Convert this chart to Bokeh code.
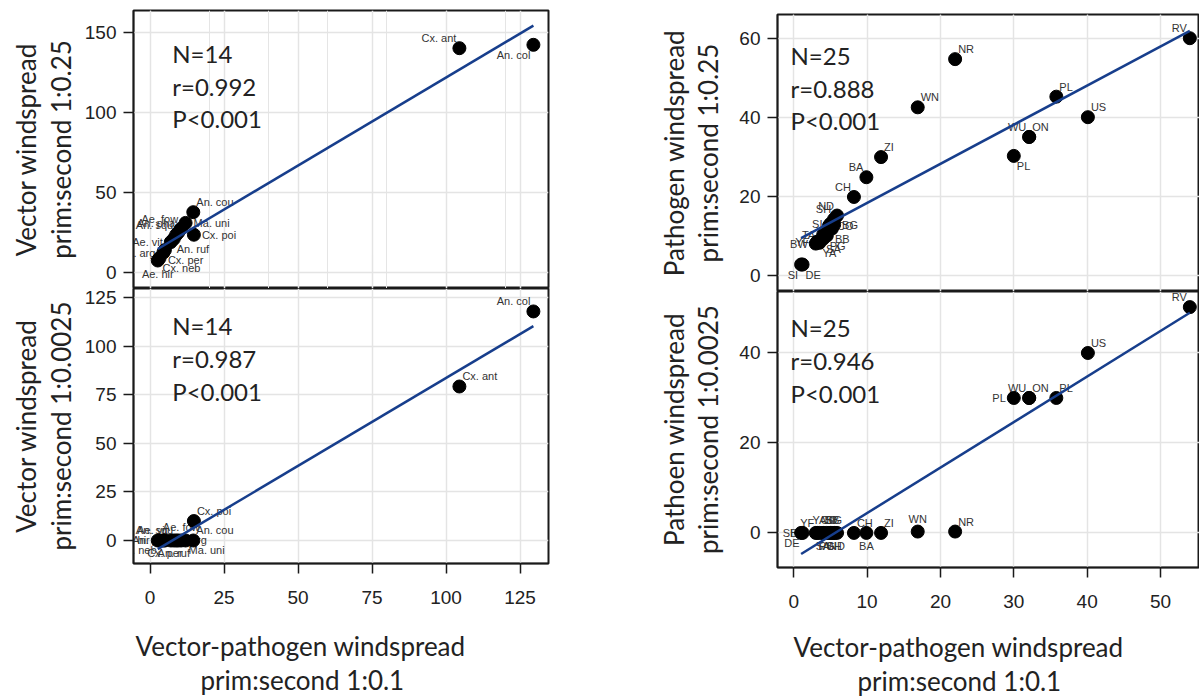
import numpy as np
from bokeh.plotting import figure
from bokeh.layouts import row, column
from bokeh.models import ColumnDataSource, FixedTicker, Grid, Label, Range1d, Title
from bokeh.core.properties import value
from bokeh.embed import file_html
from bokeh.resources import INLINE

# ---------------- data ----------------
vec_species = ["Cx. ant", "An. col", "An. cou", "Cx. poi", "Ma. uni", "Ae. fow", "An. pha",
               "An. squ", "An. ruf", "Ae. vit", "Cx. per", "Ae. arg", "Cx. neb", "Ae. hir"]
vec_x = [104.5, 129.5, 14.6, 14.8, 12.0, 10.5, 9.5, 8.8, 8.0, 7.0, 5.0, 4.5, 3.2, 2.6]
vec_y_025 = [140.2, 142.3, 37.7, 23.6, 31.0, 27.5, 25.0, 23.5, 21.0, 19.0, 14.0, 12.5, 9.0, 7.5]
vec_y_00025 = [79.2, 117.8, 0.0, 10.0, 0.0, 0.0, 0.0, 0.0, 0.0, 0.0, 0.0, 0.0, 0.0, 0.0]
vec_stats_025 = ["N=14", "r=0.992", "P<0.001"]
vec_stats_00025 = ["N=14", "r=0.987", "P<0.001"]

path_sites = ["RV", "NR", "WN", "PL", "US", "WU", "ON", "PL", "ZI", "BA", "CH", "ND", "SH",
              "SI", "CO", "BG", "BB", "TA", "PG", "BW", "YF", "SA", "YA", "SI", "DE"]
path_x = [54.0, 22.0, 16.9, 35.8, 40.1, 32.1, 32.1, 30.0, 11.9, 9.9, 8.2, 5.9, 5.5,
          5.0, 4.8, 5.5, 5.2, 4.0, 4.5, 3.0, 3.2, 4.0, 3.5, 1.0, 1.2]
path_y_025 = [60.0, 54.7, 42.5, 45.2, 40.0, 35.0, 35.0, 30.2, 29.9, 24.8, 19.8, 15.1, 14.2,
              13.0, 12.5, 12.8, 11.8, 10.2, 10.0, 8.0, 8.5, 9.2, 8.2, 2.7, 2.7]
path_y_00025 = [50.2, 0.3, 0.3, 30.0, 40.0, 30.0, 30.0, 30.0, 0.0, 0.0, 0.0, 0.0, 0.0,
                0.0, 0.0, 0.0, 0.0, 0.0, 0.0, 0.0, 0.0, 0.0, 0.0, 0.0, 0.0]
path_stats_025 = ["N=25", "r=0.888", "P<0.001"]
path_stats_00025 = ["N=25", "r=0.946", "P<0.001"]

vec_x_ticks = [0, 25, 50, 75, 100, 125]
vec_y025_ticks = [0, 50, 100, 150]
vec_y00025_ticks = [0, 25, 50, 75, 100, 125]
path_x_ticks = [0, 10, 20, 30, 40, 50]
path_y025_ticks = [0, 20, 40, 60]
path_y00025_ticks = [0, 20, 40]

x_title_lines = ["Vector-pathogen windspread", "prim:second 1:0.1"]
y_title_ul = "Vector windspread\nprim:second 1:0.25"
y_title_ll = "Vector windspread\nprim:second 1:0.0025"
y_title_ur = "Pathogen windspread\nprim:second 1:0.25"
y_title_lr = "Pathoen windspread\nprim:second 1:0.0025"

# ---------------- styles (label placement) ----------------
POS = {
    "ur": (3, -4, "left", "bottom"),
    "ul": (-3, -4, "right", "bottom"),
    "lr": (3, 4, "left", "top"),
    "ll": (-3, 4, "right", "top"),
    "r": (8, 0, "left", "middle"),
    "l": (-8, 0, "right", "middle"),
    "u": (0, -7, "center", "bottom"),
    "d": (0, 7, "center", "top"),
}
vec_pos_025 = ["ul", "ll", "ur", "r", "r", "ul", "ul", "ul", "lr", "l", "lr", "l", "lr", "d"]
vec_pos_00025 = ["ur", "ul", "ur", "ur", "lr", "u", "l", "ul", "d", "ul", "d", "r", "ll", "l"]
path_pos_025 = ["ul", "ur", "ur", "ur", "ur", "ul", "ur", "lr", "ur", "ul", "ul", "ul", "ul",
                "l", "r", "r", "lr", "l", "lr", "l", "l", "lr", "lr", "ll", "lr"]
path_pos_00025 = ["ul", "ur", "u", "ur", "ur", "ul", "ur", "l", "ur", "d", "ur", "d", "d",
                  "u", "u", "u", "u", "d", "d", "l", "ul", "d", "u", "l", "ll"]

INK = "#1a1a1a"
LINE_BLUE = "#173e8c"
GRID = "#e4e4e4"
TITLE_FONT = "Lato"
TITLE_SIZE = "26px"


def style_axis(ax, ticks, title, standoff, line_height, label_standoff):
    ax.ticker = FixedTicker(ticks=ticks)
    ax.major_tick_out = 10
    ax.major_tick_in = 0
    ax.minor_tick_out = 0
    ax.minor_tick_in = 0
    ax.major_tick_line_color = INK
    ax.major_tick_line_width = 1.5
    ax.axis_line_color = INK
    ax.axis_line_width = 1.5
    ax.major_label_text_font = "Liberation Sans"
    ax.major_label_text_font_size = "19px"
    ax.major_label_text_color = "#222222"
    ax.major_label_standoff = label_standoff
    if title is not None:
        ax.axis_label = title
        ax.axis_label_text_font = TITLE_FONT
        ax.axis_label_text_font_style = "normal"
        ax.axis_label_text_font_size = TITLE_SIZE
        ax.axis_label_text_color = "#222222"
        ax.axis_label_text_line_height = line_height
        ax.axis_label_standoff = standoff


def make_panel(width, height, xr, yr, borders, xs, ys, names, pos, xticks, yticks,
               ytitle, ystandoff, xtitle_offsets, gap_size, stats, stat_xy):
    mbl, mbr, mbt, mbb = borders
    show_x = xtitle_offsets is not None
    p = figure(width=width, height=height, x_range=Range1d(*xr), y_range=Range1d(*yr),
               output_backend="svg", toolbar_location=None,
               x_axis_location="below" if show_x else None,
               min_border_left=mbl, min_border_right=mbr,
               min_border_top=mbt, min_border_bottom=mbb)
    p.background_fill_color = "white"
    p.border_fill_color = "white"
    p.outline_line_color = INK
    p.outline_line_width = 2
    style_axis(p.yaxis[0], yticks, ytitle, ystandoff, 1.08, 7)
    p.ygrid.grid_line_color = GRID
    p.ygrid.grid_line_width = 1.5
    if show_x:
        style_axis(p.xaxis[0], xticks, None, 0, 1.0, 17)
        p.xgrid.grid_line_color = GRID
        p.xgrid.grid_line_width = 1.5
        # blank spacer between tick labels and the two-line title
        p.add_layout(Title(text=" ", standoff=0, text_font=TITLE_FONT,
                           text_font_size=gap_size), "below")
        for txt, off in zip(x_title_lines, xtitle_offsets):
            p.add_layout(Title(text=txt, align="left", offset=off, standoff=0,
                               text_font=TITLE_FONT, text_font_size=TITLE_SIZE,
                               text_font_style="normal", text_color="#222222"), "below")
    else:
        p.add_layout(Grid(dimension=0, ticker=FixedTicker(ticks=xticks),
                          grid_line_color=GRID, grid_line_width=1.5))

    src = ColumnDataSource(dict(
        x=xs, y=ys, name=names,
        xo=[POS[k][0] for k in pos], yo=[POS[k][1] for k in pos],
        al=[POS[k][2] for k in pos], bl=[POS[k][3] for k in pos]))
    p.text(x="x", y="y", text="name", source=src, x_offset="xo", y_offset="yo",
           text_align="al", text_baseline="bl", text_font=value("Liberation Sans"),
           text_font_size=value("11px"), text_color="#333333")
    p.scatter(x="x", y="y", source=src, size=13, fill_color="black", line_color="black")

    k, b = np.polyfit(np.array(xs), np.array(ys), 1)
    x0, x1 = min(xs), max(xs)
    p.line([x0, x1], [k * x0 + b, k * x1 + b], line_color=LINE_BLUE, line_width=2.5)

    sx, sys_ = stat_xy
    for t, yy in zip(stats, sys_):
        p.add_layout(Label(x=sx, y=yy, text=t, text_font="Lato", text_font_size="24px",
                           text_baseline="middle", text_align="left", text_color="#222222"))
    return p


ul = make_panel(560, 288, (-5.6, 134.6), (-10.0, 163.75), (133, 12, 10, 0),
                vec_x, vec_y_025, vec_species, vec_pos_025, vec_x_ticks, vec_y025_ticks,
                y_title_ul, 5, None, None, vec_stats_025, (7.5, [136.9, 116.25, 96.25]))
ll = make_panel(560, 408, (-5.6, 134.6), (-11.83, 129.6), (133, 12, 0, 133),
                vec_x, vec_y_00025, vec_species, vec_pos_00025, vec_x_ticks, vec_y00025_ticks,
                y_title_ll, 5, (2, 67), "16px", vec_stats_00025, (7.5, [110.6, 93.6, 76.6]))
ur = make_panel(639, 291, (-2.22, 55.32), (-4.13, 66.0), (217, 0, 14, 0),
                path_x, path_y_025, path_sites, path_pos_025, path_x_ticks, path_y025_ticks,
                y_title_ur, 12, None, None, path_stats_025, (-0.45, [55.6, 47.3, 39.2]))
lr = make_panel(639, 405, (-2.22, 55.32), (-7.69, 53.67), (217, 0, 0, 128),
                path_x, path_y_00025, path_sites, path_pos_00025, path_x_ticks, path_y00025_ticks,
                y_title_lr, 12, (16, 80), "13px", path_stats_00025, (-0.45, [45.7, 38.4, 31.1]))

layout = row(column(ul, ll), column(ur, lr))
open("out.html", "w").write(file_html(layout, INLINE))
